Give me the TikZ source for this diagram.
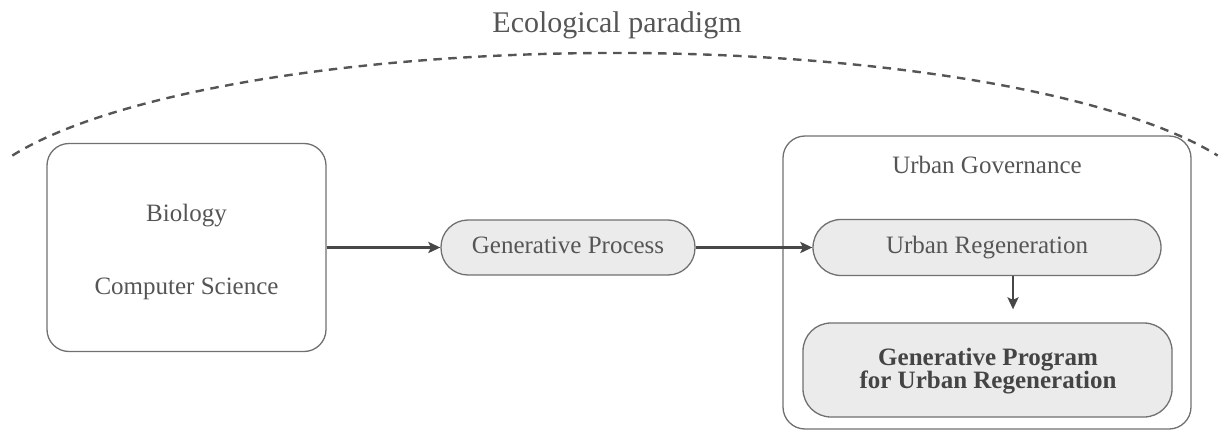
\documentclass[tikz,border=0pt]{standalone}
\usepackage{fontspec}
\setmainfont{Liberation Serif}
\usetikzlibrary{arrows.meta}

\definecolor{edgegray}{HTML}{707070}
\definecolor{arrowgray}{HTML}{474747}
\definecolor{dashgray}{HTML}{555555}
\definecolor{boxfill}{HTML}{EBEBEB}
\definecolor{txtgray}{HTML}{555555}
\definecolor{boldgray}{HTML}{444444}

\tikzset{
  frame/.style={draw=edgegray, line width=1.3pt, inner sep=0pt},
  pill/.style={frame, fill=boxfill, font=\fontsize{25}{30}\selectfont,
    text=txtgray, text height=18pt, text depth=6pt},
  label/.style={anchor=base, inner sep=0pt, text=txtgray,
    font=\fontsize{25}{30}\selectfont},
  boldlabel/.style={label, text=boldgray,
    font=\fontsize{25}{30}\selectfont\bfseries},
  flow/.style={draw=arrowgray, line width=2.4pt,
    -{Stealth[length=12pt, width=11pt, inset=2.5pt]}},
  paradigm/.style={draw=dashgray, line width=2.4pt,
    dash pattern=on 8.5pt off 6.5pt}
}

\begin{document}
\begin{tikzpicture}[x=1pt, y=1pt]
  \useasboundingbox (0,0) rectangle (1223,432);

  % dashed arc of the ecological paradigm
  \draw[paradigm] (615,215) ++(158:650pt and 164pt)
    arc[start angle=158, end angle=22, x radius=650pt, y radius=164pt];
  \node[label, font=\fontsize{30}{36}\selectfont] (title) at (617,399)
    {Ecological paradigm};

  % source disciplines
  \node[frame, rounded corners=22pt, minimum width=279pt,
    minimum height=208pt] (sci) at (186.5,184.5) {};
  \node[label] (bio) at (186.5,211) {Biology};
  \node[label] (cs) at (186.5,138) {Computer Science};

  % generative process
  \node[pill, rounded corners=27pt, minimum width=254pt,
    minimum height=55pt] (proc) at (568,184.5) {Generative Process};

  % urban governance frame
  \node[frame, rounded corners=22pt, minimum width=408pt,
    minimum height=293pt] (gov) at (987,149.5) {};
  \node[label] (govtitle) at (987,259) {Urban Governance};

  \node[pill, rounded corners=28pt, minimum width=348pt,
    minimum height=56pt] (regen) at (987,184.5) {Urban Regeneration};

  \node[frame, fill=boxfill, rounded corners=28pt, minimum width=369pt,
    minimum height=94pt] (prog) at (987.5,62) {};
  \node[boldlabel] (prog1) at (988,67) {Generative Program};
  \node[boldlabel] (prog2) at (988,44) {for Urban Regeneration};

  % connectors
  \coordinate (down) at (1013,0);
  \draw[flow] (sci.east) -- (proc.west);
  \draw[flow] (proc.east) -- (regen.west);
  \draw[flow, shorten >=13pt] (regen.south -| down) -- (prog.north -| down);
\end{tikzpicture}
\end{document}
